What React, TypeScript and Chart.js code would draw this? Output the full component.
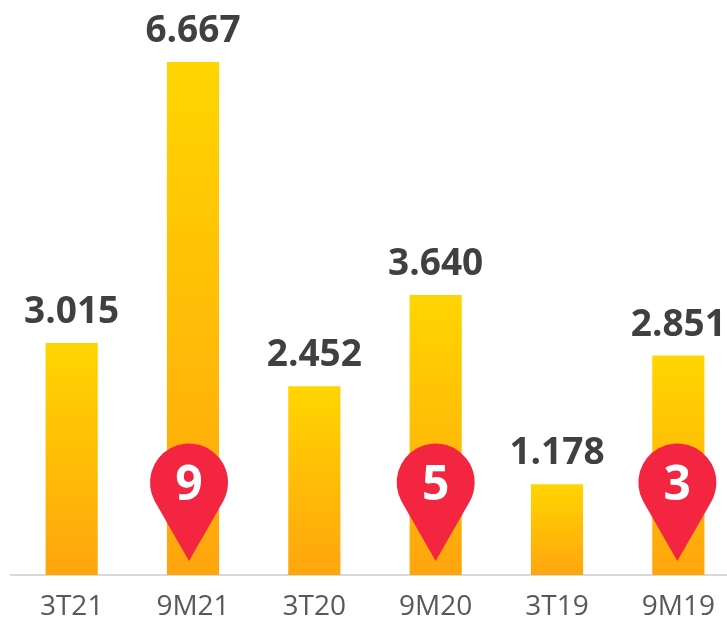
import React, { useEffect, useRef } from "react";
import { Chart, registerables } from "chart.js";

Chart.register(...registerables);

const categories = ["3T21", "9M21", "3T20", "9M20", "3T19", "9M19"];
const values = [3.015, 6.667, 2.452, 3.64, 1.178, 2.851];
const valueLabels = ["3.015", "6.667", "2.452", "3.640", "1.178", "2.851"];
const pinLabels = [null, "9", null, "5", null, "3"];
const pinShift = [0, -4, 0, 0, 0, -1];

const FONT = '"Open Sans", sans-serif';

const overlay = {
  id: "overlay",
  afterDatasetsDraw(chart: any) {
    const { ctx } = chart;
    const bars = chart.getDatasetMeta(0).data;
    ctx.save();
    ctx.textAlign = "center";
    ctx.textBaseline = "alphabetic";
    bars.forEach((bar: any, i: number) => {
      ctx.fillStyle = "#404040";
      ctx.font = `bold 37px ${FONT}`;
      ctx.fillText(valueLabels[i], bar.x, bar.y - 20);
    });
    bars.forEach((bar: any, i: number) => {
      const label = pinLabels[i];
      if (!label) return;
      const cx = bar.x + pinShift[i];
      const cy = 482.5;
      const r = 39;
      const tip = 561;
      const a = 0.5;
      ctx.fillStyle = "#F32540";
      ctx.beginPath();
      ctx.arc(cx, cy, r, Math.PI - a, a, false);
      ctx.lineTo(cx, tip);
      ctx.closePath();
      ctx.fill();
      ctx.fillStyle = "#FFFFFF";
      ctx.font = `bold 48px ${FONT}`;
      ctx.fillText(label, cx, 500);
    });
    ctx.restore();
  },
};

export default function App() {
  const ref = useRef<HTMLCanvasElement>(null);
  useEffect(() => {
    const chart = new Chart(ref.current!, {
      type: "bar",
      data: {
        labels: categories,
        datasets: [
          {
            data: values,
            barPercentage: 0.43,
            categoryPercentage: 1,
            backgroundColor: (c: any) => {
              const sy = c.chart.scales?.y;
              if (!sy || c.raw == null) return "#FFD500";
              const y0 = sy.getPixelForValue(c.raw);
              const y1 = sy.getPixelForValue(0);
              if (!Number.isFinite(y0) || !Number.isFinite(y1)) return "#FFD500";
              const g = c.chart.ctx.createLinearGradient(0, y0, 0, y1);
              g.addColorStop(0, "#FFD500");
              g.addColorStop(1, "#FFA50E");
              return g;
            },
          },
        ],
      },
      options: {
        responsive: false,
        animation: false,
        layout: { padding: { left: 11, right: 0, top: 0, bottom: 0 } },
        plugins: { legend: { display: false }, tooltip: { enabled: false } },
        scales: {
          x: {
            grid: { display: false, drawTicks: false },
            border: { color: "#D9D9D9", width: 2 },
            ticks: { color: "#595959", font: { family: FONT, size: 28 }, padding: 15, maxRotation: 0, autoSkip: false },
            afterFit: (s: any) => {
              s.height = 46;
            },
          },
          y: { display: false, min: 0, max: 7.472 },
        },
      },
      plugins: [overlay],
    } as any);
    return () => chart.destroy();
  }, []);
  return (
    <div style={{ position: "absolute", left: 0, top: 0, width: 727, height: 621, overflow: "hidden", background: "#fff" }}>
      <canvas ref={ref} width={739} height={621} style={{ display: "block" }} />
    </div>
  );
}
